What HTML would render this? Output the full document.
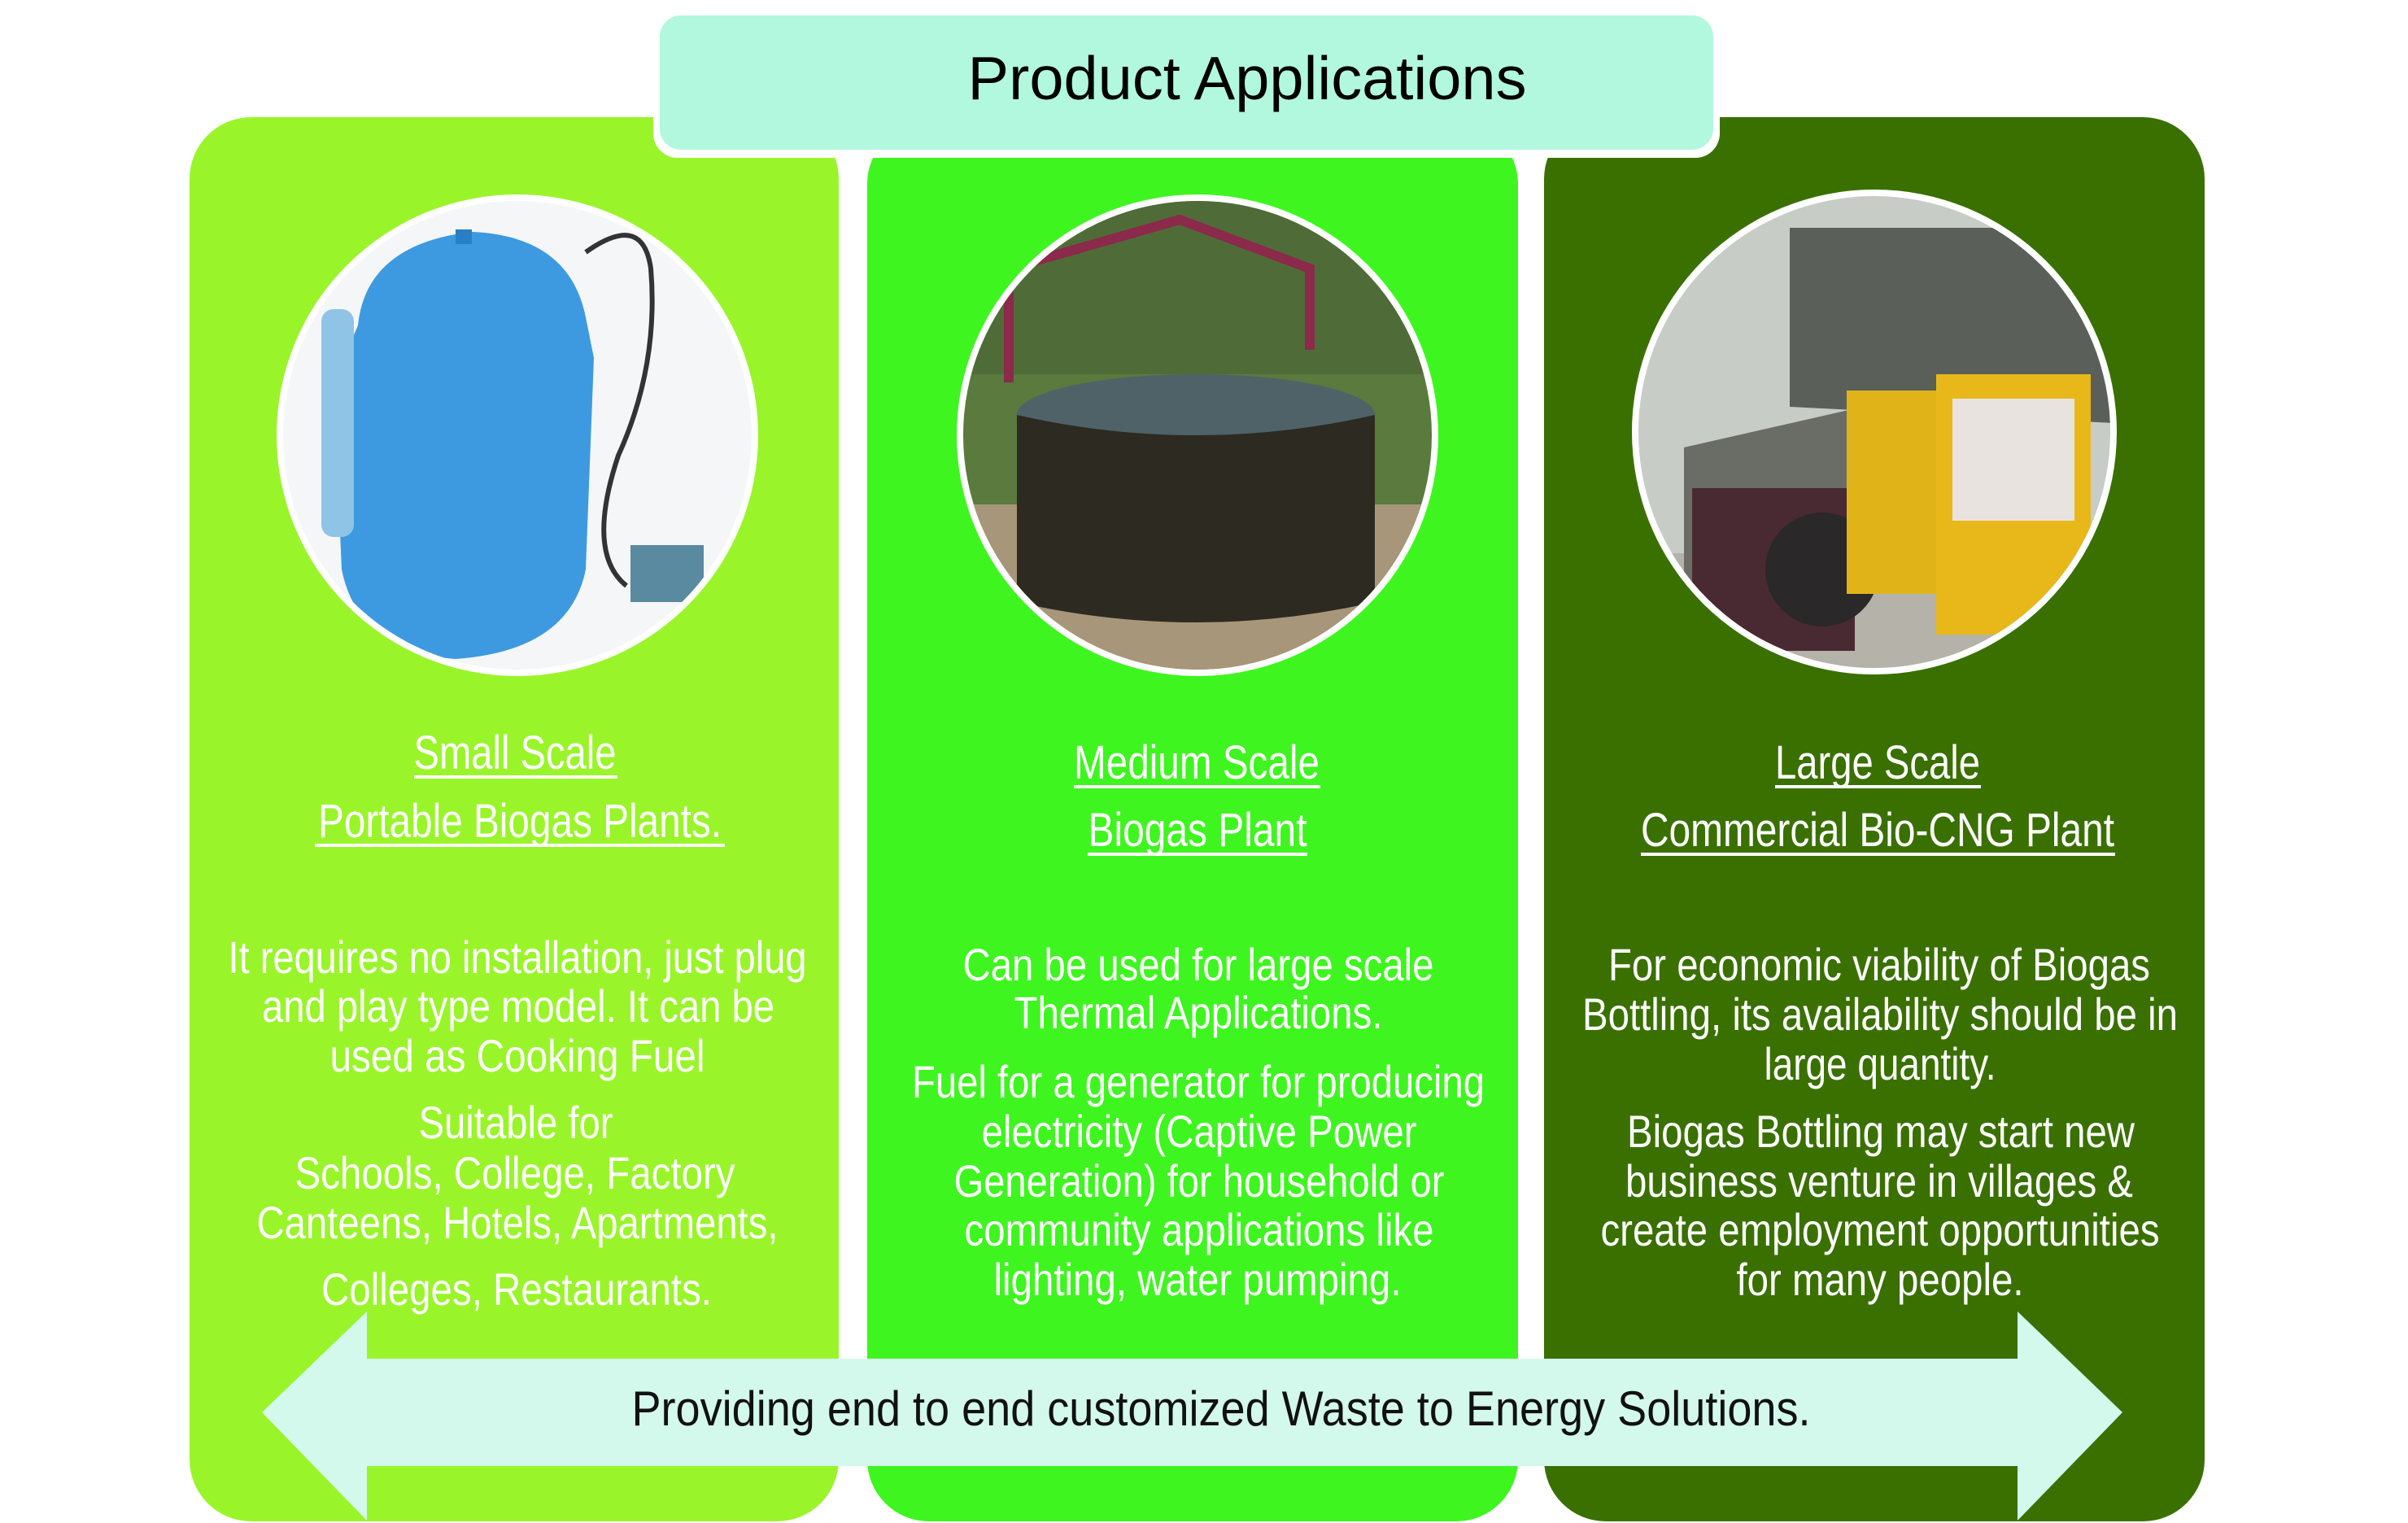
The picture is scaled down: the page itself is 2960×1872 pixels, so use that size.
<!DOCTYPE html>
<html><head><meta charset="utf-8"><style>
html,body{margin:0;padding:0;background:#fff;}
svg{display:block;}
.t{font-family:"Liberation Sans Narrow","Liberation Sans",sans-serif;fill:#fff;text-anchor:middle;font-size:56px;}
.h{font-size:58px;}
</style></head><body>
<svg width="2960" height="1872" viewBox="0 0 2960 1872" xmlns="http://www.w3.org/2000/svg">
<defs>
<clipPath id="c1"><circle cx="636" cy="535" r="288"/></clipPath>
<clipPath id="c2"><circle cx="1472" cy="535" r="288"/></clipPath>
<clipPath id="c3"><circle cx="2304" cy="531" r="290"/></clipPath>
</defs>
<!-- panels -->
<rect x="233" y="144" width="798" height="1726" rx="76" fill="#99f52a"/>
<rect x="1066" y="150" width="800" height="1720" rx="76" fill="#3ff520"/>
<rect x="1898" y="144" width="812" height="1726" rx="76" fill="#3a7000"/>

<!-- header -->
<rect x="803" y="14" width="1311" height="180" rx="30" fill="#fff"/>
<rect x="811" y="19" width="1295" height="165" rx="26" fill="#b1f8df"/>
<text x="1533" y="122" font-family="Liberation Sans, sans-serif" font-size="75" fill="#000" text-anchor="middle" textLength="687" lengthAdjust="spacingAndGlyphs">Product Applications</text>

<!-- circle 1 -->
<circle cx="636" cy="535" r="296" fill="#fff"/>
<g clip-path="url(#c1)">
<rect x="340" y="240" width="600" height="600" fill="#f4f6f8"/>
<path d="M440 400 Q450 300 580 285 Q700 290 720 390 L730 440 L720 700 Q700 800 560 810 Q440 800 420 700 L410 470 Z" fill="#3d9ae0"/>
<path d="M560 282 L580 282 L580 300 L560 300Z" fill="#2a7fc4"/>
<rect x="395" y="380" width="40" height="280" rx="15" fill="#8fc4e6"/>
<path d="M720 310 Q790 260 800 330 Q810 450 760 560 Q720 680 770 720" stroke="#333" stroke-width="6" fill="none"/>
<rect x="775" y="670" width="90" height="70" fill="#5a8aa0"/>
</g>
<!-- circle 2 -->
<circle cx="1472" cy="535" r="296" fill="#fff"/>
<g clip-path="url(#c2)">
<rect x="1180" y="240" width="600" height="600" fill="#5a7a3e"/>
<rect x="1180" y="240" width="600" height="220" fill="#4f6c38"/>
<rect x="1180" y="620" width="600" height="230" fill="#a8967a"/>
<ellipse cx="1470" cy="510" rx="220" ry="50" fill="#4e6268"/>
<path d="M1250 510 L1250 740 Q1470 790 1690 740 L1690 510 Q1470 560 1250 510Z" fill="#2d2a22"/>
<path d="M1240 470 L1240 330 L1450 270 L1610 330 L1610 430" stroke="#8b2a4a" stroke-width="12" fill="none"/>
</g>
<!-- circle 3 -->
<circle cx="2304" cy="531" r="298" fill="#fff"/>
<g clip-path="url(#c3)">
<rect x="2010" y="238" width="590" height="590" fill="#c8ccc6"/>
<path d="M2200 280 L2600 280 L2600 520 L2200 500Z" fill="#5a5f5a"/>
<rect x="2020" y="680" width="580" height="150" fill="#b5b2aa"/>
<path d="M2070 550 L2290 500 L2290 720 L2070 720Z" fill="#6a6c66"/>
<rect x="2080" y="600" width="200" height="200" fill="#4a2a32"/>
<circle cx="2240" cy="700" r="70" fill="#2a2828"/>
<rect x="2270" y="480" width="110" height="250" fill="#e0b418"/>
<rect x="2380" y="460" width="190" height="320" fill="#e8b81a"/>
<rect x="2400" y="490" width="150" height="150" fill="#e9e3e0"/>
</g>

<!-- left text -->
<text class="t h" x="633" y="945" textLength="249" lengthAdjust="spacingAndGlyphs">Small Scale</text>
<rect x="509" y="953" width="250" height="4" fill="#fff"/>
<text class="t h" x="639" y="1029" textLength="496" lengthAdjust="spacingAndGlyphs">Portable Biogas Plants.</text>
<rect x="387" y="1037" width="504" height="4" fill="#fff"/>
<text class="t" x="636" y="1196" textLength="711" lengthAdjust="spacingAndGlyphs">It requires no installation, just plug</text>
<text class="t" x="637" y="1256" textLength="630" lengthAdjust="spacingAndGlyphs">and play type model. It can be</text>
<text class="t" x="636" y="1317" textLength="461" lengthAdjust="spacingAndGlyphs">used as Cooking Fuel</text>
<text class="t" x="634" y="1399" textLength="239" lengthAdjust="spacingAndGlyphs">Suitable for</text>
<text class="t" x="633" y="1461" textLength="541" lengthAdjust="spacingAndGlyphs">Schools, College, Factory</text>
<text class="t" x="636" y="1522" textLength="641" lengthAdjust="spacingAndGlyphs">Canteens, Hotels, Apartments,</text>
<text class="t" x="635" y="1604" textLength="480" lengthAdjust="spacingAndGlyphs">Colleges, Restaurants.</text>

<!-- middle text -->
<text class="t h" x="1471" y="957" textLength="302" lengthAdjust="spacingAndGlyphs">Medium Scale</text>
<rect x="1320" y="965" width="303" height="4" fill="#fff"/>
<text class="t h" x="1472" y="1040" textLength="269" lengthAdjust="spacingAndGlyphs">Biogas Plant</text>
<rect x="1337" y="1048" width="270" height="4" fill="#fff"/>
<text class="t" x="1473" y="1205" textLength="579" lengthAdjust="spacingAndGlyphs">Can be used for large scale</text>
<text class="t" x="1473" y="1264" textLength="453" lengthAdjust="spacingAndGlyphs">Thermal Applications.</text>
<text class="t" x="1473" y="1349" textLength="704" lengthAdjust="spacingAndGlyphs">Fuel for a generator for producing</text>
<text class="t" x="1474" y="1410" textLength="535" lengthAdjust="spacingAndGlyphs">electricity (Captive Power</text>
<text class="t" x="1474" y="1471" textLength="603" lengthAdjust="spacingAndGlyphs">Generation) for household or</text>
<text class="t" x="1474" y="1531" textLength="577" lengthAdjust="spacingAndGlyphs">community applications like</text>
<text class="t" x="1472" y="1592" textLength="501" lengthAdjust="spacingAndGlyphs">lighting, water pumping.</text>

<!-- right text -->
<text class="t h" x="2308" y="957" textLength="252" lengthAdjust="spacingAndGlyphs">Large Scale</text>
<rect x="2182" y="965" width="253" height="4" fill="#fff"/>
<text class="t h" x="2308" y="1040" textLength="582" lengthAdjust="spacingAndGlyphs">Commercial Bio-CNG Plant</text>
<rect x="2017" y="1048" width="583" height="4" fill="#fff"/>
<text class="t" x="2310" y="1205" textLength="666" lengthAdjust="spacingAndGlyphs">For economic viability of Biogas</text>
<text class="t" x="2311" y="1266" textLength="732" lengthAdjust="spacingAndGlyphs">Bottling, its availability should be in</text>
<text class="t" x="2311" y="1327" textLength="285" lengthAdjust="spacingAndGlyphs">large quantity.</text>
<text class="t" x="2312" y="1410" textLength="624" lengthAdjust="spacingAndGlyphs">Biogas Bottling may start new</text>
<text class="t" x="2310" y="1471" textLength="624" lengthAdjust="spacingAndGlyphs">business venture in villages &amp;</text>
<text class="t" x="2311" y="1531" textLength="687" lengthAdjust="spacingAndGlyphs">create employment opportunities</text>
<text class="t" x="2311" y="1592" textLength="353" lengthAdjust="spacingAndGlyphs">for many people.</text>

<!-- arrow -->
<polygon points="322,1736 451,1612 451,1670 2480,1670 2480,1612 2609,1736 2480,1869 2480,1802 451,1802 451,1869" fill="#d3f8ec"/>
<text x="1501" y="1752" font-family="Liberation Sans Narrow, Liberation Sans, sans-serif" font-size="60" fill="#111" text-anchor="middle" textLength="1449" lengthAdjust="spacingAndGlyphs">Providing end to end customized Waste to Energy Solutions.</text>
</svg>
</body></html>
